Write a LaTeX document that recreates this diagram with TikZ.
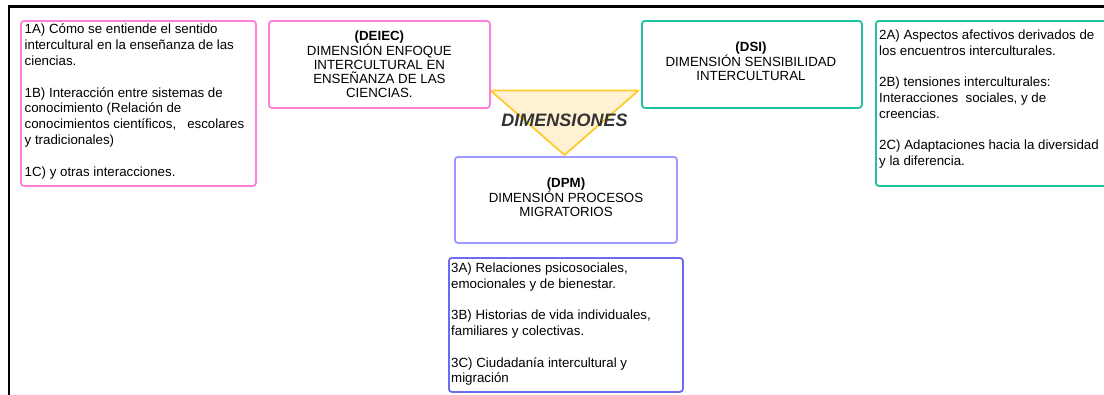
\documentclass[tikz,border=0pt]{standalone}
\usepackage{fontspec}
\setmainfont{Liberation Sans}
\definecolor{pinkc}{HTML}{FF80D8}
\definecolor{tealc}{HTML}{1EC4A2}
\definecolor{lilac}{HTML}{9A9AFF}
\definecolor{bluec}{HTML}{6B6BEE}
\definecolor{goldc}{HTML}{FFCB2E}
\definecolor{creamc}{HTML}{FFF1D4}
\definecolor{darkt}{HTML}{333333}
\begin{document}
\begin{tikzpicture}[x=1pt,y=-1pt,
  boxbase/.style={draw, line width=1.8pt, rounded corners=3pt, anchor=north west, inner sep=0pt},
  pinkbox/.style={boxbase, draw=pinkc},
  tealbox/.style={boxbase, draw=tealc},
  lilacbox/.style={boxbase, draw=lilac},
  bluebox/.style={boxbase, draw=bluec},
  headtext/.style={align=center, font=\fontsize{13.3}{14}\selectfont, text=black},
  listtext/.style={anchor=north west, inner sep=0pt, align=left, font=\fontsize{13.3}{15.8}\selectfont, text=black},
  frameline/.style={line width=2.3pt, black}
]
\useasboundingbox (0,0) rectangle (1104,394);
\clip (0,0) rectangle (1104,394);
% outer frame
\coordinate (f1) at (1106,6.5);
\coordinate (f2) at (9,6.5);
\coordinate (f3) at (9,396);
\draw[frameline] (f1) -- (f2) -- (f3);

% triangle
\coordinate (tl) at (490.5,90.5);
\coordinate (tr) at (638.5,90.5);
\coordinate (tb) at (564.5,155);
\draw[draw=goldc, fill=creamc, line width=1.8pt, line join=round] (tl) -- (tr) -- (tb) -- cycle;
\node[font=\bfseries\itshape\fontsize{18}{20}\selectfont, text=darkt, inner sep=0pt] (dim) at (564.5,120.5) {DIMENSIONES};

% box 1
\node[pinkbox, minimum width=235pt, minimum height=165pt] (b1) at (20,20) {};
\node[listtext] (t1) at (24.5,24) {1A) Cómo se entiende el sentido\\
intercultural en la enseñanza de las\\
ciencias.\\[15.8pt]
1B) Interacción entre sistemas de\\
conocimiento (Relación de\\
conocimientos científicos,\ \ \ escolares\\
y tradicionales)\\[15.8pt]
1C) y otras interacciones.};

% DEIEC
\node[pinkbox, headtext, minimum width=221pt, minimum height=87pt] (deiec) at (268,20)
 {\textbf{(DEIEC)}\\DIMENSIÓN ENFOQUE\\INTERCULTURAL EN\\ENSEÑANZA DE LAS\\CIENCIAS.};

% DSI
\node[tealbox, minimum width=220pt, minimum height=87pt] (dsi) at (641,20) {};
\node[headtext, inner sep=0pt] (dsit) at (751,61) {\textbf{(DSI)}\\DIMENSIÓN SENSIBILIDAD\\INTERCULTURAL};

% box 2
\node[tealbox, minimum width=245pt, minimum height=165pt] (b2) at (875,20) {};
\node[listtext] (t2) at (879,29.5) {2A) Aspectos afectivos derivados de\\
los encuentros interculturales.\\[15.8pt]
2B) tensiones interculturales:\\
Interacciones\ \ sociales, y de\\
creencias.\\[15.8pt]
2C) Adaptaciones hacia la diversidad\\
y la diferencia.};

% DPM
\node[lilacbox, minimum width=222pt, minimum height=86pt] (dpm) at (454,156) {};
\node[headtext, inner sep=0pt] (dpmt) at (566,197) {\textbf{(DPM)}\\DIMENSIÓN PROCESOS\\MIGRATORIOS};

% box 3
\node[bluebox, minimum width=234pt, minimum height=134pt] (b3) at (448,257) {};
\node[listtext] (t3) at (451,262.5) {3A) Relaciones psicosociales,\\
emocionales y de bienestar.\\[15.8pt]
3B) Historias de vida individuales,\\
familiares y colectivas.\\[15.8pt]
3C) Ciudadanía intercultural y\\
migración};
\end{tikzpicture}
\end{document}
